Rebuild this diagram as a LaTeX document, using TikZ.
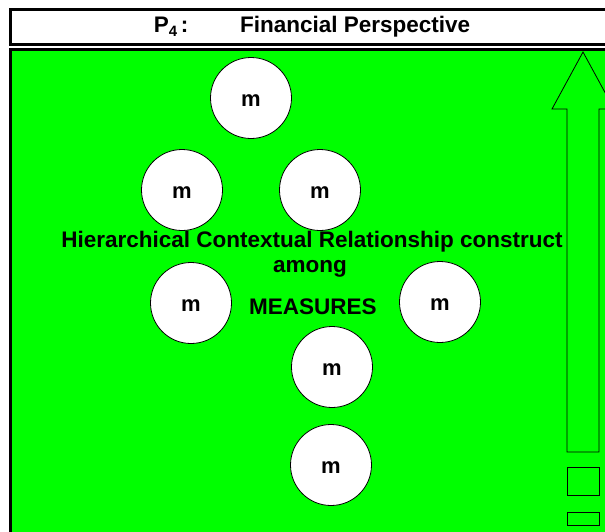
\documentclass[tikz,border=0pt]{standalone}
\usepackage{fontspec}
\setmainfont{Liberation Sans}
\usetikzlibrary{positioning}
\definecolor{perspgreen}{HTML}{00FF00}
\tikzset{
    measure node/.style={
        circle,
        minimum size=81pt,
        inner sep=0pt,
        fill=white,
        draw=black,
        line width=0.8pt,
        font=\fontsize{22}{22}\selectfont\bfseries,
        text height=17pt,
        text depth=0pt
    },
    frame box/.style={
        draw=black,
        line width=3pt
    },
    label text/.style={
        font=\fontsize{22.5}{24}\selectfont\bfseries,
        inner sep=0pt
    }
}
\begin{document}
\begin{tikzpicture}[x=1pt, y=-1pt]
    \useasboundingbox (0,0) rectangle (605,531);
    \clip (0,0) rectangle (605,531);
    \fill[white] (0,0) rectangle (605,531);

    % Header box
    \draw[frame box, fill=white] (10,9) rectangle (640,44);
    \node[label text] (head) at (312,27)
        {P\raisebox{-0.35ex}{\fontsize{15}{15}\selectfont 4}\,:\hspace{2.3em}Financial Perspective};

    % Green panel
    \draw[frame box, fill=perspgreen] (10,49) rectangle (640,560);

    % Upward arrow on the right
    \draw[line width=0.8pt, fill=perspgreen] (567,452) -- (567,109) -- (552,109)
        -- (583,52) -- (614,109) -- (599,109) -- (599,452) -- cycle;
    \draw[line width=0.8pt] (567,467) rectangle (599,495);
    \draw[line width=0.8pt] (567,512) rectangle (599,525);

    % Measures
    \node[measure node] (m1) at (251,98) {m};
    \node[measure node] (m2) at (182,190) {m};
    \node[measure node] (m3) at (320,190) {m};
    \node[measure node] (m4) at (191,303) {m};
    \node[measure node] (m5) at (440,302) {m};
    \node[measure node] (m6) at (332,367) {m};
    \node[measure node] (m7) at (331,465) {m};

    % Caption
    \node[label text] (title) at (312,242) {Hierarchical Contextual Relationship construct};
    \node[label text] (among) at (310,269) {among};
    \node[label text] (meas) at (313,307) {MEASURES};
\end{tikzpicture}
\end{document}
